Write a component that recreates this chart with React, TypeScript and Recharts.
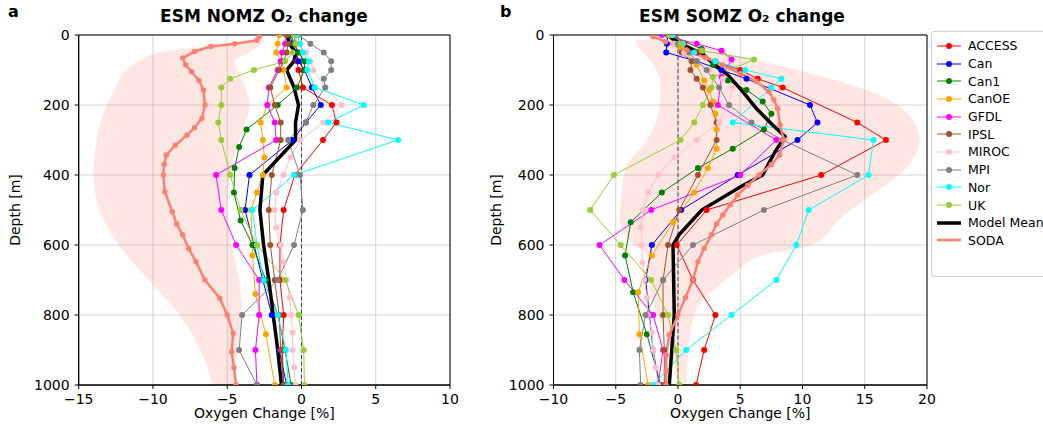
import { ComposedChart, Line, Area, XAxis, YAxis, CartesianGrid, ReferenceLine, ReferenceArea } from "recharts";

type Pair = [number, number];
type Band = [number, number, number];

const MODELS = ["ACCESS", "Can", "Can1", "CanOE", "GFDL", "IPSL", "MIROC", "MPI", "Nor", "UK"];
const COLORS = ["#ff0000", "#0000ff", "#008000", "#ffa500", "#ff00ff", "#a0522d", "#ffc0cb", "#808080", "#00ffff", "#9acd32"];
const MEAN_COLOR = "#000000";
const SODA_COLOR = "#fa8072";

const DEPTH_TICKS = [0, 200, 400, 600, 800, 1000];
const NOMZ_TICKS = [-15, -10, -5, 0, 5, 10];
const SOMZ_TICKS = [-10, -5, 0, 5, 10, 15, 20];

// ---- panel a: NOMZ  ([depth, change %])
const NOMZ_ACCESS: Pair[] = [[0, -0.5], [25, -0.4], [50, -0.3], [75, -0.3], [100, -0.2], [150, 0.1], [200, 2.05], [250, 2.35], [300, 1.45], [400, -0.45], [500, -1.2], [600, -1.45], [700, -1.45], [800, -1.2], [900, -1.3], [1000, -1.2]];
const NOMZ_CAN: Pair[] = [[0, -0.8], [25, -0.6], [50, -0.4], [75, -0.2], [100, 0.2], [150, 0.7], [200, 1.3], [250, 0.3], [300, -0.6], [400, -3.5], [500, -3.8], [600, -3.2], [700, -2.6], [800, -2.0], [900, -1.5], [1000, -1.0]];
const NOMZ_CAN1: Pair[] = [[0, -0.7], [25, -0.5], [50, -0.2], [75, 0.2], [100, 0.2], [150, -0.3], [200, -1.6], [270, -3.7], [320, -4.2], [380, -4.5], [450, -4.55], [530, -4.1], [600, -3.3], [700, -2.4], [800, -1.6], [900, -1.1], [1000, -0.7]];
const NOMZ_CANOE: Pair[] = [[0, -1.5], [25, -1.6], [50, -1.7], [75, -1.4], [100, -1.2], [150, -1.0], [200, -2.3], [250, -2.75], [300, -2.6], [350, -2.5], [400, -2.6], [450, -3.0], [500, -3.4], [630, -3.3], [740, -3.1], [855, -2.4], [1000, -1.8]];
const NOMZ_GFDL: Pair[] = [[0, -1.0], [25, -1.1], [50, -1.3], [75, -1.4], [100, -1.6], [150, -2.2], [200, -2.3], [250, -1.8], [300, -1.7], [400, -5.75], [500, -5.4], [600, -4.4], [700, -2.85], [800, -2.85], [900, -3.1], [1000, -3.0]];
const NOMZ_IPSL: Pair[] = [[0, -1.0], [25, -0.9], [50, -1.0], [75, -1.2], [100, -1.5], [150, -2.1], [200, -1.8], [250, -1.4], [300, -1.4], [400, -2.0], [500, -2.2], [600, -2.1], [700, -1.8], [800, -1.5], [900, -1.4], [1000, -1.2]];
const NOMZ_MIROC: Pair[] = [[0, -0.5], [25, -0.2], [50, 0.3], [75, 0.6], [100, 0.8], [150, 1.6], [200, 2.7], [250, 1.5], [300, -0.1], [350, -0.75], [400, -1.2], [450, -1.7], [500, -1.8], [550, -1.7], [600, -1.4], [650, -1.2], [700, -1.0], [750, -0.8], [800, -0.7], [850, -0.6], [900, -0.6], [950, -0.5], [1000, -0.4]];
const NOMZ_MPI: Pair[] = [[0, -0.2], [25, 0.6], [50, 1.5], [75, 2.0], [100, 2.0], [125, 1.5], [150, 1.6], [200, 0.8], [250, 0.3], [300, -0.9], [400, -0.1], [500, 0.1], [600, -0.5], [700, -1.6], [800, -4.0], [900, -4.2], [1000, -3.0]];
const NOMZ_NOR: Pair[] = [[0, -0.3], [25, -0.1], [50, 0.1], [75, 0.5], [100, 0.4], [150, 0.9], [200, 4.2], [250, 1.8], [300, 6.5], [400, -0.5], [500, -3.3], [600, -3.0], [700, -2.55], [800, -1.6], [900, -1.05], [1000, -0.9]];
const NOMZ_UK: Pair[] = [[0, -0.5], [25, -0.4], [50, -0.6], [75, -1.1], [100, -3.2], [125, -4.8], [150, -5.4], [200, -5.4], [250, -5.6], [300, -5.4], [400, -4.8], [500, -4.1], [600, -3.0], [700, -1.1], [800, -0.2], [900, 0.15], [1000, 0.2]];
const NOMZ_MEAN: Pair[] = [[0, -1.0], [25, -0.8], [50, -0.4], [75, -0.5], [100, -1.0], [150, -0.5], [200, -0.2], [250, -0.4], [300, -0.4], [400, -2.6], [500, -2.8], [600, -2.55], [700, -2.2], [800, -1.9], [900, -1.6], [1000, -1.35]];
const NOMZ_SODA: Pair[] = [[5, -2.85], [15, -3.0], [25, -4.5], [33, -6.1], [47, -7.2], [66, -8.0], [85, -7.8], [105, -7.4], [130, -6.9], [157, -6.6], [200, -6.5], [238, -6.7], [265, -7.2], [286, -7.7], [315, -8.5], [343, -9.1], [370, -9.25], [400, -9.3], [448, -9.2], [505, -8.7], [540, -8.4], [571, -8.0], [610, -7.6], [648, -7.1], [700, -6.5], [752, -5.5], [800, -5.0], [852, -4.6], [905, -4.7], [950, -4.55], [1000, -4.4]];
const NOMZ_BAND: Band[] = [[15, -3.2, -2.4], [30, -6.0, -2.8], [50, -9.5, -3.5], [75, -11.0, -4.5], [100, -11.8, -4.3], [150, -12.5, -3.8], [200, -13.1, -3.5], [300, -13.8, -4.2], [400, -14.0, -4.8], [500, -13.6, -5.0], [600, -12.3, -4.7], [700, -10.3, -4.2], [800, -8.2, -4.0], [900, -6.8, -4.3], [1000, -6.0, -4.5]];

// ---- panel b: SOMZ
const SOMZ_ACCESS: Pair[] = [[0, -0.3], [25, 0.5], [50, 1.5], [75, 3.0], [100, 5.0], [125, 6.4], [150, 8.4], [250, 14.4], [300, 16.7], [400, 11.5], [500, 2.3], [600, -0.1], [700, 1.2], [800, 3.0], [900, 2.1], [1000, 1.45]];
const SOMZ_CAN: Pair[] = [[0, -0.8], [25, -0.9], [50, -0.95], [75, 1.5], [100, 3.5], [125, 5.5], [200, 10.6], [250, 11.2], [300, 9.6], [400, 4.8], [500, 0.25], [600, -2.1], [700, -2.6], [800, -2.3], [900, -2.0], [1000, -1.5]];
const SOMZ_CAN1: Pair[] = [[0, -0.6], [40, 1.9], [85, 2.8], [130, 4.0], [157, 5.5], [190, 6.8], [225, 7.5], [270, 6.9], [325, 4.4], [380, 1.6], [450, -1.3], [535, -3.8], [630, -4.25], [735, -3.6], [855, -2.5], [1000, -1.4]];
const SOMZ_CANOE: Pair[] = [[0, -0.5], [40, 0.3], [85, 1.5], [130, 2.1], [157, 2.5], [190, 2.8], [225, 3.0], [270, 3.1], [325, 3.1], [380, 2.4], [450, 1.3], [535, -0.4], [630, -2.1], [735, -3.2], [855, -3.1], [1000, -2.4]];
const SOMZ_GFDL: Pair[] = [[0, -1.3], [25, 1.5], [45, 3.5], [70, 4.3], [120, 3.5], [200, 3.2], [300, 7.9], [400, 5.0], [500, -2.15], [600, -6.3], [700, -4.3], [800, -2.0], [900, -1.2], [1000, -1.6]];
const SOMZ_IPSL: Pair[] = [[0, -0.8], [25, -0.3], [50, 0.3], [75, 1.1], [100, 1.0], [125, 1.5], [150, 2.0], [200, 2.6], [250, 3.1], [300, 3.1], [400, 1.6], [500, 0.1], [600, -0.8], [700, -1.2], [800, -1.2], [900, -1.1], [1000, -1.1]];
const SOMZ_MIROC: Pair[] = [[0, -0.7], [25, -0.3], [50, 0.5], [75, 1.5], [100, 2.5], [125, 3.6], [150, 4.4], [200, 4.0], [250, 3.3], [300, 1.5], [350, -0.3], [400, -1.6], [450, -2.4], [500, -2.8], [550, -3.0], [600, -2.9], [650, -2.85], [700, -2.7], [750, -2.5], [800, -2.4], [850, -2.1], [900, -2.0], [950, -1.8], [1000, -1.6]];
const SOMZ_MPI: Pair[] = [[0, -0.7], [25, 0.0], [50, 0.9], [75, 1.5], [100, 2.3], [150, 3.3], [200, 4.1], [250, 5.9], [300, 8.4], [400, 14.4], [500, 6.9], [600, 1.2], [700, -1.2], [800, -2.6], [900, -3.1], [1000, -3.0]];
const SOMZ_NOR: Pair[] = [[0, -0.4], [25, 0.4], [50, 1.3], [75, 3.0], [100, 5.4], [125, 8.3], [150, 7.5], [250, 4.4], [300, 15.7], [400, 15.3], [500, 10.5], [600, 9.5], [700, 7.9], [800, 4.3], [900, 0.65], [1000, -2.0]];
const SOMZ_UK: Pair[] = [[0, -0.7], [25, 0.2], [45, 1.9], [70, 6.1], [120, 2.8], [150, 2.7], [200, 2.0], [250, 1.3], [300, 0.2], [400, -5.15], [500, -7.05], [600, -4.6], [700, -2.15], [800, -0.8], [900, -0.15], [1000, 0.1]];
const SOMZ_MEAN: Pair[] = [[0, -0.9], [20, 0.0], [57, 2.0], [114, 4.0], [162, 5.2], [210, 6.3], [257, 7.6], [290, 8.6], [333, 7.8], [400, 6.8], [430, 5.2], [500, 1.9], [570, 0.1], [600, -0.4], [700, -0.35], [800, -0.3], [900, -0.5], [1000, -0.7]];
const SOMZ_SODA: Pair[] = [[5, -2.0], [19, -1.0], [43, 0.7], [65, 2.2], [86, 3.6], [110, 5.0], [133, 6.3], [162, 7.3], [185, 7.7], [210, 8.0], [257, 8.2], [300, 8.5], [343, 8.15], [370, 7.5], [400, 6.5], [430, 5.6], [457, 4.8], [485, 4.2], [514, 3.6], [540, 3.1], [571, 2.7], [610, 2.1], [648, 1.6], [700, 1.2], [750, 0.6], [800, 0.0], [857, -0.7], [914, -0.95], [960, -0.95], [1000, -0.95]];
const SOMZ_BAND: Band[] = [[15, -3.4, -0.5], [30, -3.2, 1.5], [60, -2.5, 5.0], [95, -1.8, 9.0], [138, -1.4, 13.5], [210, -1.5, 18.0], [300, -2.5, 19.4], [381, -4.2, 18.3], [476, -4.6, 14.8], [524, -4.7, 13.0], [600, -3.5, 10.8], [629, -2.5, 6.8], [676, -2.4, 4.7], [724, -2.3, 3.0], [771, -2.0, 1.7], [850, -1.0, 1.0], [914, -0.5, 0.8], [1000, 0.0, 0.65]];

const NOMZ_MODELS = [NOMZ_ACCESS, NOMZ_CAN, NOMZ_CAN1, NOMZ_CANOE, NOMZ_GFDL, NOMZ_IPSL, NOMZ_MIROC, NOMZ_MPI, NOMZ_NOR, NOMZ_UK];
const SOMZ_MODELS = [SOMZ_ACCESS, SOMZ_CAN, SOMZ_CAN1, SOMZ_CANOE, SOMZ_GFDL, SOMZ_IPSL, SOMZ_MIROC, SOMZ_MPI, SOMZ_NOR, SOMZ_UK];

const toRows = (pairs: Pair[]) => pairs.map(([depth, v]) => ({ depth, v }));
const toBand = (b: Band[]) => b.map(([depth, lo, hi]) => ({ depth, range: [lo, hi] }));
const fmt = (v: number) => (v < 0 ? `\u2212${-v}` : `${v}`);

const FONT = "'DejaVu Sans', sans-serif";

interface PanelProps {
  left: number;
  margin: { top: number; right: number; bottom: number; left: number };
  xTicks: number[];
  models: Pair[][];
  mean: Pair[];
  soda: Pair[];
  band: Band[];
  labelOffset: number;
}

function Panel({ left, margin, xTicks, models, mean, soda, band, labelOffset }: PanelProps) {
  const x0 = xTicks[0];
  const x1 = xTicks[xTicks.length - 1];
  const tick = { fill: "#000", fontSize: 14 };
  return (
    <div style={{ position: "absolute", left, top: 0 }}>
      <ComposedChart width={470} height={430} layout="vertical" margin={margin}>
        <CartesianGrid stroke="#c8c8c8" strokeWidth={0.8} />
        <XAxis
          type="number"
          domain={[x0, x1]}
          ticks={xTicks}
          allowDataOverflow
          height={45}
          tickSize={4}
          tickMargin={5}
          tick={tick}
          tickFormatter={fmt}
          stroke="#000"
          label={{ value: "Oxygen Change [%]", position: "insideBottom", offset: 12, fill: "#000", fontSize: 14 }}
        />
        <YAxis
          type="number"
          dataKey="depth"
          domain={[0, 1000]}
          ticks={DEPTH_TICKS}
          allowDataOverflow
          width={70}
          tickSize={4}
          tickMargin={5}
          tick={tick}
          stroke="#000"
          label={{ value: "Depth [m]", angle: -90, position: "insideLeft", offset: labelOffset, fill: "#000", fontSize: 14, style: { textAnchor: "middle" } }}
        />
        <Area
          data={toBand(band)}
          dataKey="range"
          type="monotone"
          stroke="none"
          fill={SODA_COLOR}
          fillOpacity={0.2}
          isAnimationActive={false}
        />
        <ReferenceLine x={0} stroke="#444" strokeDasharray="4 2.5" strokeWidth={1} />
        {models.map((m, i) => (
          <Line
            key={MODELS[i]}
            name={MODELS[i]}
            data={toRows(m)}
            dataKey="v"
            type="linear"
            stroke={COLORS[i]}
            strokeWidth={1}
            dot={{ r: 3, fill: COLORS[i], stroke: COLORS[i], strokeWidth: 0 }}
            isAnimationActive={false}
          />
        ))}
        <Line name="Model Mean" data={toRows(mean)} dataKey="v" type="linear" stroke={MEAN_COLOR} strokeWidth={3.5} dot={false} isAnimationActive={false} />
        <Line
          name="SODA"
          data={toRows(soda)}
          dataKey="v"
          type="linear"
          stroke={SODA_COLOR}
          strokeWidth={2.5}
          dot={{ r: 1.5, fill: SODA_COLOR, stroke: SODA_COLOR }}
          isAnimationActive={false}
        />
        <ReferenceArea x1={x0} x2={x1} y1={0} y2={1000} fill="none" stroke="#000" strokeWidth={1} ifOverflow="visible" />
      </ComposedChart>
    </div>
  );
}

function LegendBox() {
  const items = [
    ...MODELS.map((m, i) => ({ name: m, color: COLORS[i], kind: "model" })),
    { name: "Model Mean", color: MEAN_COLOR, kind: "mean" },
    { name: "SODA", color: SODA_COLOR, kind: "soda" },
  ];
  return (
    <div
      style={{
        position: "absolute",
        left: 931,
        top: 31,
        width: 118,
        height: 246,
        border: "1px solid #d0d0d0",
        borderRadius: 3,
        background: "#fff",
        boxSizing: "border-box",
        paddingTop: 5,
      }}
    >
      {items.map((it) => (
        <div key={it.name} style={{ display: "flex", alignItems: "center", height: 17.7 }}>
          <svg width={30} height={12} style={{ marginLeft: 3, flex: "none" }}>
            <line x1={2} y1={6} x2={26} y2={6} stroke={it.color} strokeWidth={it.kind === "mean" ? 3.5 : it.kind === "soda" ? 2.5 : 1} />
            {it.kind === "model" && <circle cx={14} cy={6} r={3} fill={it.color} />}
            {it.kind === "soda" && <circle cx={14} cy={6} r={1.5} fill={it.color} />}
          </svg>
          <span style={{ fontSize: 12.5, marginLeft: 3, whiteSpace: "nowrap", color: "#000" }}>{it.name}</span>
        </div>
      ))}
    </div>
  );
}

export default function App() {
  const titleStyle = { position: "absolute" as const, top: 6, fontSize: 17, fontWeight: 700, textAlign: "center" as const, width: 380, color: "#000" };
  const letterStyle = { position: "absolute" as const, top: 2, fontSize: 16, fontWeight: 700, color: "#000" };
  return (
    <div style={{ position: "absolute", left: 0, top: 0, width: 1043, height: 430, background: "#fff", fontFamily: FONT, overflow: "hidden" }}>
      <Panel
        left={0}
        margin={{ top: 35, right: 20, bottom: 0, left: 8.7 }}
        xTicks={NOMZ_TICKS}
        models={NOMZ_MODELS}
        mean={NOMZ_MEAN}
        soda={NOMZ_SODA}
        band={NOMZ_BAND}
        labelOffset={6}
      />
      <Panel
        left={480}
        margin={{ top: 35, right: 23, bottom: 0, left: 3.5 }}
        xTicks={SOMZ_TICKS}
        models={SOMZ_MODELS}
        mean={SOMZ_MEAN}
        soda={SOMZ_SODA}
        band={SOMZ_BAND}
        labelOffset={13}
      />
      <div style={{ ...letterStyle, left: 8 }}>a</div>
      <div style={{ ...letterStyle, left: 500 }}>b</div>
      <div style={{ ...titleStyle, left: 264 - 190 }}>ESM NOMZ O₂ change</div>
      <div style={{ ...titleStyle, left: 742 - 190 }}>ESM SOMZ O₂ change</div>
      <LegendBox />
    </div>
  );
}
